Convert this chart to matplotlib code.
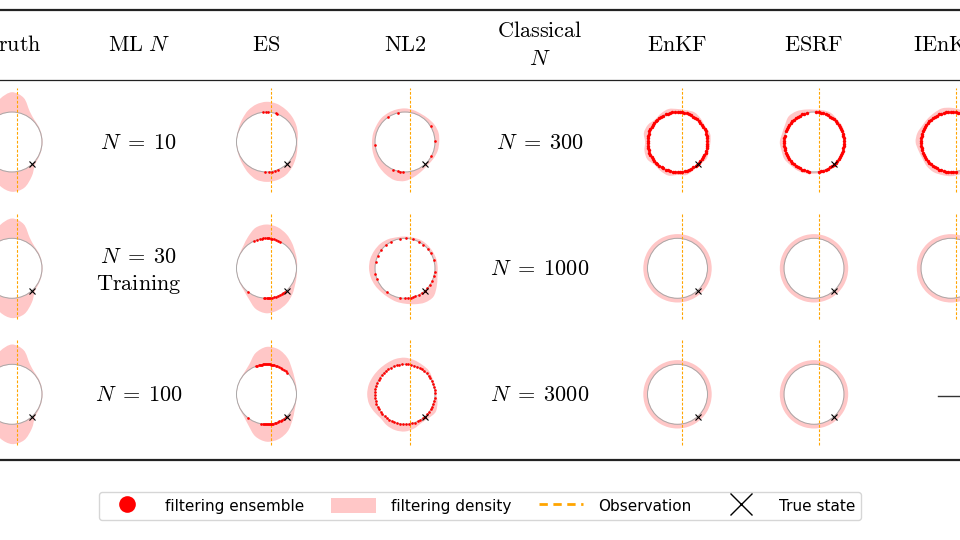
import numpy as np
import matplotlib
matplotlib.use("Agg")
import matplotlib.pyplot as plt
from matplotlib.path import Path
from matplotlib.patches import PathPatch, Circle, Patch
from matplotlib.lines import Line2D

plt.rcParams['mathtext.fontset'] = 'cm'
plt.rcParams['font.family'] = ['DejaVu Sans']

W, H = 960, 540

# ---------------- data ----------------
HEADERS = [r"$\mathrm{Truth}$", r"$\mathrm{ML}\ N$", r"$\mathrm{ES}$", r"$\mathrm{NL2}$",
           None, r"$\mathrm{EnKF}$", r"$\mathrm{ESRF}$", r"$\mathrm{IEnKF}$"]
ML_LABELS = [r"$N\;=\;10$", r"$N\;=\;30$", r"$N\;=\;100$"]
ML_SUB = [None, r"$\mathrm{Training}$", None]
CLASSICAL_LABELS = [r"$N\;=\;300$", r"$N\;=\;1000$", r"$N\;=\;3000$"]

# angles (deg) at which density thickness is read
ANGLES = [0, 15, 30, 45, 60, 75, 90, 105, 120, 135, 150, 165,
          180, 195, 210, 225, 240, 255, 270, 285, 300, 315, 330, 345]

OBS_X = 0.15          # observation (x coordinate)
TRUE_ANGLE = -48.0    # true state angle (deg)

TRUTH_DENS = [0.02, 0.02, 0.03, 0.05, 0.18, 0.52, 0.66, 0.50, 0.26, 0.08, 0.03, 0.02,
              0.02, 0.02, 0.03, 0.08, 0.26, 0.52, 0.66, 0.58, 0.32, 0.08, 0.03, 0.02]

ES_N10_DENS = [0.03, 0.08, 0.14, 0.20, 0.26, 0.32, 0.34, 0.30, 0.22, 0.12, 0.05, 0.01,
               0.00, 0.01, 0.04, 0.10, 0.20, 0.30, 0.33, 0.32, 0.28, 0.20, 0.12, 0.06]
ES_N30_DENS = [0.02, 0.05, 0.10, 0.20, 0.32, 0.42, 0.46, 0.40, 0.22, 0.08, 0.02, 0.00,
               0.00, 0.00, 0.02, 0.06, 0.18, 0.40, 0.50, 0.45, 0.35, 0.22, 0.10, 0.04]
ES_N100_DENS = [0.01, 0.03, 0.08, 0.20, 0.40, 0.55, 0.58, 0.42, 0.15, 0.04, 0.01, 0.00,
                0.00, 0.00, 0.02, 0.06, 0.20, 0.45, 0.58, 0.55, 0.42, 0.22, 0.08, 0.02]

NL2_N10_DENS = [0.14, 0.16, 0.14, 0.10, 0.08, 0.10, 0.12, 0.12, 0.12, 0.12, 0.10, 0.10,
                0.10, 0.12, 0.15, 0.20, 0.26, 0.32, 0.30, 0.20, 0.12, 0.08, 0.10, 0.13]
NL2_N30_DENS = [0.09, 0.09, 0.08, 0.08, 0.08, 0.06, 0.06, 0.07, 0.12, 0.16, 0.18, 0.20,
                0.20, 0.18, 0.15, 0.12, 0.12, 0.15, 0.18, 0.24, 0.32, 0.34, 0.22, 0.12]
NL2_N100_DENS = [0.05, 0.04, 0.06, 0.12, 0.14, 0.18, 0.22, 0.22, 0.20, 0.20, 0.22, 0.25,
                 0.26, 0.24, 0.18, 0.14, 0.20, 0.24, 0.24, 0.18, 0.10, 0.12, 0.18, 0.12]

ENKF_N300_DENS = [0.10, 0.12, 0.06, 0.10, 0.14, 0.10, 0.10, 0.14, 0.10, 0.06, 0.14, 0.16,
                  0.08, 0.14, 0.16, 0.08, 0.12, 0.16, 0.10, 0.14, 0.08, 0.06, 0.12, 0.08]
ESRF_N300_DENS = [0.06, 0.06, 0.08, 0.08, 0.12, 0.10, 0.08, 0.12, 0.18, 0.20, 0.12, 0.10,
                  0.14, 0.12, 0.14, 0.10, 0.10, 0.08, 0.06, 0.06, 0.05, 0.06, 0.06, 0.05]
IENKF_N300_DENS = [0.10, 0.10, 0.10, 0.10, 0.10, 0.12, 0.14, 0.16, 0.12, 0.10, 0.10, 0.16,
                   0.18, 0.12, 0.10, 0.14, 0.16, 0.14, 0.14, 0.12, 0.10, 0.10, 0.10, 0.10]
UNIFORM_DENS = [0.14, 0.14, 0.14, 0.14, 0.14, 0.14, 0.14, 0.14, 0.14, 0.14, 0.14, 0.14,
                0.14, 0.14, 0.14, 0.14, 0.14, 0.14, 0.14, 0.14, 0.14, 0.14, 0.14, 0.14]

# ensemble member angles (deg)
ES_N10_ENS = [96, 91, 88, 72, 69, -93, -85, -80, -73, -67]
ES_N30_ENS = [115, 108, 103, 99, 96, 93, 90, 88, 85, 82, 79, 75, 71, 67, 63,
              -128, -95, -92, -90, -88, -86, -84, -80, -76, -72, -68, -64, -60, -56, -52]
ES_N100_ENS = [111, 108, 105, 102, 100, 98, 96, 94, 92, 91, 89, 88, 86, 84, 82, 80, 78,
               75, 72, 69, 66, 62, 58, 54, 50, 46,
               -128, -100, -97, -95, -93, -91, -89, -87, -85, -83, -81, -79, -77, -74,
               -71, -68, -65, -62, -58, -54, -50]
NL2_N10_ENS = [125, 104, 31.5, 2, 185, -28.6, -113, -104, -99, -94.5]
NL2_N30_ENS = [118, 88, 63, 41, 17, -7, -26, -34, -49, -63, -75, -78, -90, -127, 168,
               -159, 143, 100, 75, 52, 30, -15, -42, -56, -70, -84, -100, 155, -170, 130]
NL2_N100_ENS = [3, 9, 14, 21, 27, 33, 38, 44, 50, 56, 61, 67, 72, 78, 84, 89, 95, 101,
                106, 112, 118, 124, 129, 135, 141, 147, 152, 158, 164, 170, 175, 181,
                187, 193, 198, 204, 210, 216, 221, 227, 232, 238, 244, 249, 255, 261,
                267, 272, 278, 284, 289, 295, 301, 307, 312, 318, 324, 330, 336, 341,
                347, 353]
ENKF_N300_ENS = [2, 7, 11, 16, 21, 25, 31, 35, 40, 44, 49, 54, 58, 63, 67, 72, 77, 81,
                 86, 90, 95, 100, 104, 109, 113, 118, 123, 127, 132, 136, 141, 146, 150,
                 155, 159, 164, 169, 173, 178, 182, 187, 192, 196, 201, 205, 210, 215,
                 219, 224, 228, 233, 238, 242, 247, 251, 256, 261, 265, 270, 274, 279,
                 284, 288, 293, 297, 302, 307, 311, 316, 320, 325, 330, 334, 339, 343,
                 348, 353, 357]
ESRF_N300_ENS = [2, 7, 11, 16, 21, 25, 31, 35, 40, 44, 49, 54, 58, 63, 67, 72, 77, 81,
                 86, 104, 109, 113, 118, 123, 127, 132, 136, 141, 146, 150, 155, 159,
                 169, 173, 178, 182, 187, 192, 196, 201, 205, 210, 215, 219, 224, 228,
                 233, 238, 242, 247, 251, 256, 261, 279, 284, 288, 293, 297, 302, 307,
                 311, 316, 320, 325, 330, 334, 339, 343, 348, 353, 357]
IENKF_N300_ENS = [72, 77, 81, 86, 90, 95, 100, 104, 109, 113, 118, 123, 127, 132, 136,
                  141, 146, 150, 155, 159, 164, 169, 173, 178, 182, 187, 192, 196, 201,
                  205, 210, 215, 219, 224, 228, 233, 238, 242, 247, 251, 256, 261, 265,
                  270, 274, 279]

# ---------------- style / layout ----------------
PINK = '#ffc7c7'
GRAY = '#a8a8a8'
OBS_COLOR = '#ffa500'
COL_X = {'truth': 12, 'ml': 139, 'es': 266.5, 'nl2': 405, 'cls': 540,
         'enkf': 677.5, 'esrf': 814, 'ienkf': 951}
ROW_Y = [142, 268.3, 394.3]
SCALE = 30.0  # px per unit radius

fig = plt.figure(figsize=(W / 100, H / 100), dpi=100)
bg = fig.add_axes([0, 0, 1, 1])
bg.set_xlim(0, W)
bg.set_ylim(H, 0)
bg.axis('off')


def smooth_closed_path(angles_deg, radii):
    th = np.deg2rad(np.asarray(angles_deg, dtype=float))
    r = np.asarray(radii, dtype=float)
    P = np.column_stack([r * np.cos(th), r * np.sin(th)])
    n = len(P)
    verts = [P[0]]
    codes = [Path.MOVETO]
    for i in range(n):
        p0, p1, p2, p3 = P[i - 1], P[i], P[(i + 1) % n], P[(i + 2) % n]
        verts += [p1 + (p2 - p0) / 6.0, p2 - (p3 - p1) / 6.0, p2]
        codes += [Path.CURVE4] * 3
    return Path(verts, codes)


def draw_cell(cx, cy, dens, ens=None, ms=1.9):
    half = 2.0 * SCALE
    ax = fig.add_axes([(cx - half) / W, 1 - (cy + half) / H, 2 * half / W, 2 * half / H])
    ax.set_xlim(-2, 2)
    ax.set_ylim(-2, 2)
    ax.axis('off')
    outer = 1.0 + np.asarray(dens)
    ax.add_patch(PathPatch(smooth_closed_path(ANGLES, outer), fc=PINK, ec='none', zorder=1))
    ax.add_patch(Circle((0, 0), 0.985, fc='white', ec='none', zorder=2))
    ax.add_patch(Circle((0, 0), 1.0, fc='none', ec=GRAY, lw=0.7, zorder=3))
    ax.plot([OBS_X, OBS_X], [-1.68, 1.8], color=OBS_COLOR, lw=0.8,
            ls=(0, (2.5, 1.5)), zorder=4)
    if ens is not None:
        th = np.deg2rad(np.asarray(ens, dtype=float))
        ax.plot(np.cos(th), np.sin(th), 'o', color='red', ms=ms, mec='none', zorder=5)
    ta = np.deg2rad(TRUE_ANGLE)
    ax.plot([np.cos(ta)], [np.sin(ta)], 'x', color='black', ms=4.5, mew=0.8, zorder=6)
    return ax


# Truth column
for ry in ROW_Y:
    draw_cell(COL_X['truth'], ry, TRUTH_DENS)

# ES column
for ry, d, e in zip(ROW_Y, [ES_N10_DENS, ES_N30_DENS, ES_N100_DENS],
                    [ES_N10_ENS, ES_N30_ENS, ES_N100_ENS]):
    draw_cell(COL_X['es'], ry, d, e)

# NL2 column
for ry, d, e in zip(ROW_Y, [NL2_N10_DENS, NL2_N30_DENS, NL2_N100_DENS],
                    [NL2_N10_ENS, NL2_N30_ENS, NL2_N100_ENS]):
    draw_cell(COL_X['nl2'], ry, d, e)

# EnKF column
draw_cell(COL_X['enkf'], ROW_Y[0], ENKF_N300_DENS, ENKF_N300_ENS, ms=2.5)
draw_cell(COL_X['enkf'], ROW_Y[1], UNIFORM_DENS)
draw_cell(COL_X['enkf'], ROW_Y[2], UNIFORM_DENS)

# ESRF column
draw_cell(COL_X['esrf'], ROW_Y[0], ESRF_N300_DENS, ESRF_N300_ENS, ms=2.5)
draw_cell(COL_X['esrf'], ROW_Y[1], UNIFORM_DENS)
draw_cell(COL_X['esrf'], ROW_Y[2], UNIFORM_DENS)

# IEnKF column
draw_cell(COL_X['ienkf'], ROW_Y[0], IENKF_N300_DENS, IENKF_N300_ENS, ms=2.5)
draw_cell(COL_X['ienkf'], ROW_Y[1], UNIFORM_DENS)
bg.plot([938, 975], [396, 396], color='#333333', lw=1.0)

# table rules
bg.plot([0, W], [10, 10], color='#222222', lw=1.6)
bg.plot([0, W], [80, 80], color='#222222', lw=0.9)
bg.plot([0, W], [460, 460], color='#222222', lw=1.6)

# headers
FS = 16
hx = [COL_X['truth'], COL_X['ml'], COL_X['es'], COL_X['nl2'], None,
      COL_X['enkf'], COL_X['esrf'], 947]
for x, t in zip(hx, HEADERS):
    if t is not None:
        bg.text(x, 45, t, fontsize=FS, ha='center', va='center')
bg.text(COL_X['cls'], 31, r"$\mathrm{Classical}$", fontsize=FS, ha='center', va='center')
bg.text(COL_X['cls'], 59, r"$N$", fontsize=FS, ha='center', va='center')

# row labels
for i, ry in enumerate(ROW_Y):
    if ML_SUB[i] is None:
        bg.text(COL_X['ml'], ry + 1, ML_LABELS[i], fontsize=FS, ha='center', va='center')
    else:
        bg.text(COL_X['ml'], ry - 11, ML_LABELS[i], fontsize=FS, ha='center', va='center')
        bg.text(COL_X['ml'], ry + 16, ML_SUB[i], fontsize=FS, ha='center', va='center')
    bg.text(COL_X['cls'], ry + 1, CLASSICAL_LABELS[i], fontsize=FS, ha='center', va='center')

# legend
handles = [
    Line2D([], [], marker='o', color='red', ls='none', ms=12, mec='none'),
    Patch(fc=PINK, ec='none'),
    Line2D([], [], color=OBS_COLOR, ls=(0, (3, 2)), lw=2),
    Line2D([], [], marker='x', color='black', ls='none', ms=16, mew=1.0),
]
labels = ['filtering ensemble', 'filtering density', 'Observation', 'True state']
leg = fig.legend(handles, labels, loc='center', bbox_to_anchor=(480 / W, 1 - 506 / H),
                 ncol=4, fontsize=11, handlelength=2.9, handletextpad=1.0,
                 columnspacing=1.8, handleheight=1.1, frameon=True, fancybox=True,
                 edgecolor='#cccccc', borderpad=0.4)

fig.savefig('out.png', dpi=100)
